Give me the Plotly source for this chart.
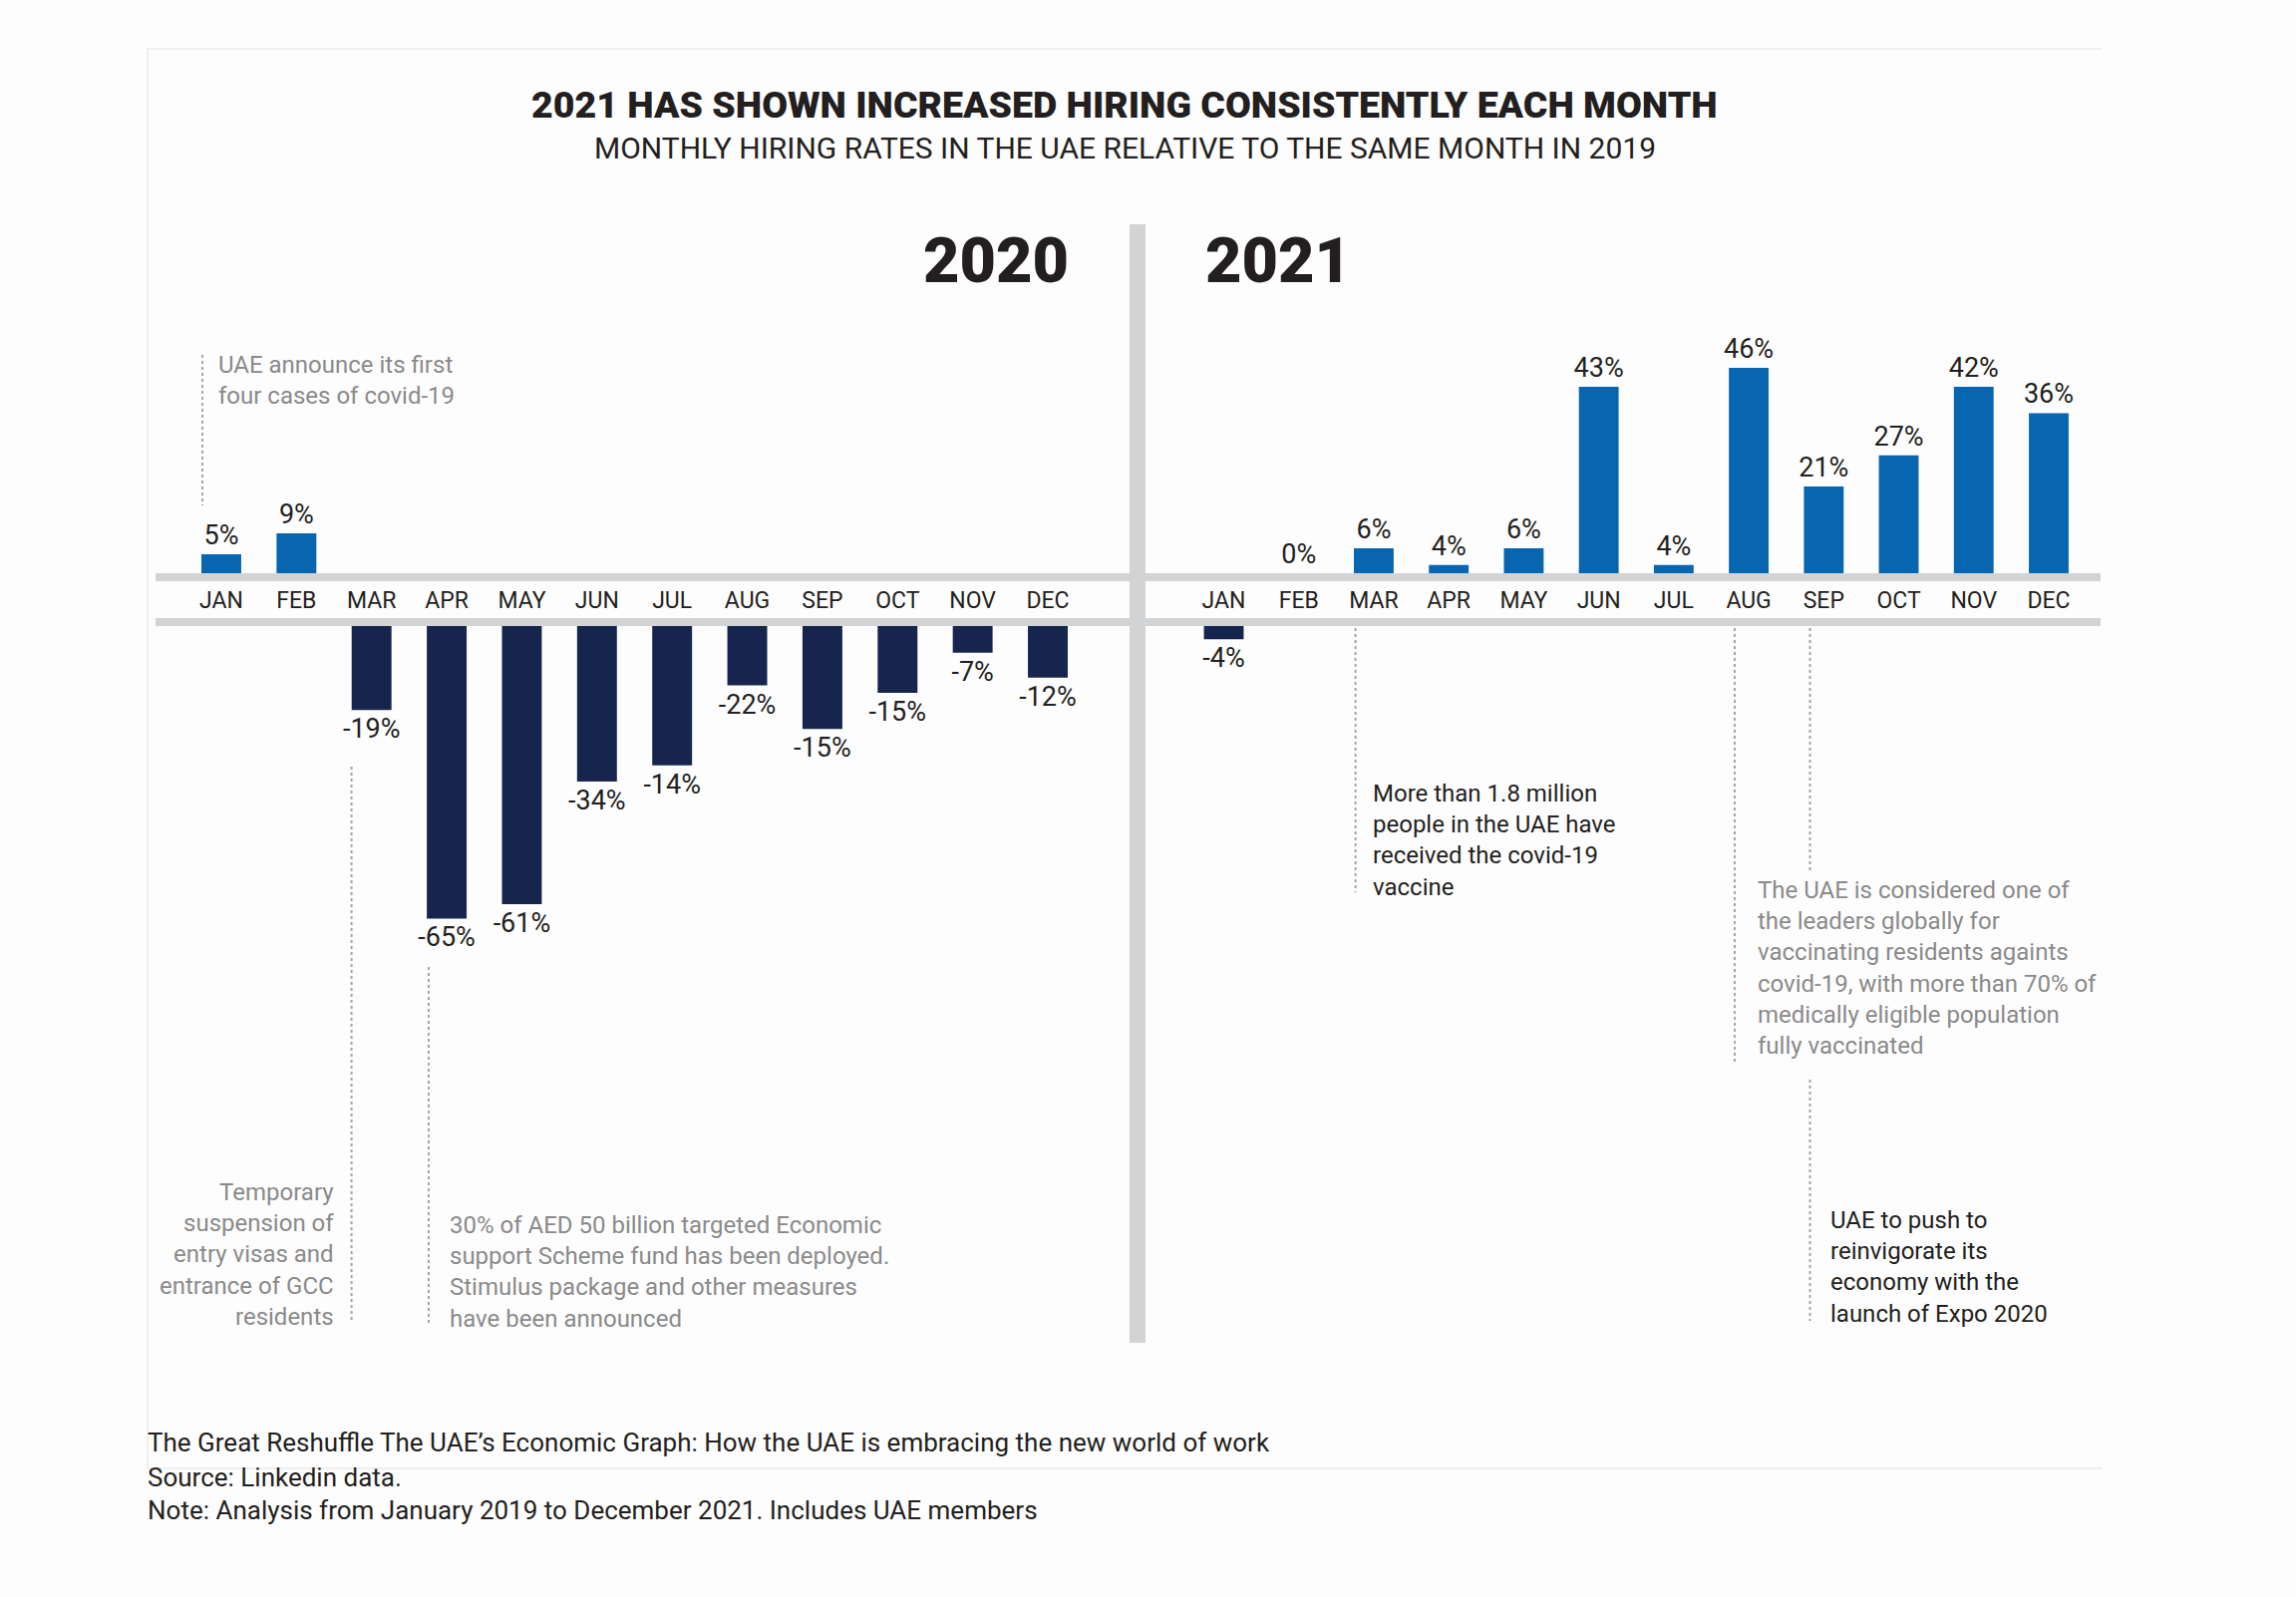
import plotly.graph_objects as go

# ---------------- data ----------------
months = ["JAN", "FEB", "MAR", "APR", "MAY", "JUN", "JUL", "AUG", "SEP", "OCT", "NOV", "DEC"]

# bar lengths as drawn in the picture
values_2020 = [4.2, 8.8, -18.5, -64.5, -61.3, -34.3, -30.7, -13.1, -22.7, -14.7, -5.9, -11.4]
values_2021 = [-2.9, 0, 5.5, 1.8, 5.5, 41.1, 1.8, 45.3, 19.1, 26.0, 41.1, 35.3]

# labels as printed in the picture
labels_2020 = ["5%", "9%", "-19%", "-65%", "-61%", "-34%", "-14%", "-22%", "-15%", "-15%", "-7%", "-12%"]
labels_2021 = ["-4%", "0%", "6%", "4%", "6%", "43%", "4%", "46%", "21%", "27%", "42%", "36%"]

title = "2021 HAS SHOWN INCREASED HIRING CONSISTENTLY EACH MONTH"
subtitle = "MONTHLY HIRING RATES IN THE UAE RELATIVE TO THE SAME MONTH IN 2019"
footer_lines = [
    "The Great Reshuffle The UAE’s Economic Graph: How the UAE is embracing the new world of work",
    "Source: Linkedin data.",
    "Note: Analysis from January 2019 to December 2021. Includes UAE members",
]

# ---------------- style ----------------
W, H = 2303, 1602
POS_COLOR = "#0866b1"
NEG_COLOR = "#15254d"
BAND = "#d2d3d5"
TXT = "#231f20"
GREY_TXT = "#8a8a8a"
DOT = "#a5a5a5"
FONT = "Roboto"
PX_PER_UNIT = 4.55


def fx(x):
    return x / W


def fy(y):
    return 1 - y / H


POS_BASE = 575   # pixel y of positive baseline
NEG_BASE = 628   # pixel y of negative baseline
POS_MAX = 50
NEG_MIN = -80

fig = go.Figure()


def add_bars(vals, labels, xa):
    pos = [(m, v, t) for m, v, t in zip(months, vals, labels) if v >= 0]
    neg = [(m, v, t) for m, v, t in zip(months, vals, labels) if v < 0]
    for group, ya, color in ((pos, "y", POS_COLOR), (neg, "y3", NEG_COLOR)):
        if not group:
            continue
        fig.add_trace(go.Bar(
            x=[g[0] for g in group], y=[g[1] for g in group], text=[g[2] for g in group],
            xaxis=xa, yaxis=ya, marker=dict(color=color, line=dict(width=0)),
            width=0.53, textposition="outside", constraintext="none",
            textfont=dict(family=FONT, size=27, color=TXT), cliponaxis=False,
            showlegend=False, hoverinfo="skip",
        ))


add_bars(values_2020, labels_2020, "x")
add_bars(values_2021, labels_2021, "x2")

xcommon = dict(type="category", categoryorder="array", categoryarray=months,
               range=[-0.5, 11.5], showgrid=False, zeroline=False, showline=False,
               ticks="outside", ticklen=6, tickcolor="rgba(0,0,0,0)",
               tickfont=dict(family=FONT, size=23, color=TXT), anchor="y", fixedrange=True)

fig.update_layout(
    width=W, height=H, margin=dict(l=0, r=0, t=0, b=0), autosize=False,
    paper_bgcolor="#fdfdfd", plot_bgcolor="rgba(0,0,0,0)",
    barmode="overlay", showlegend=False,
    xaxis=dict(domain=[fx(184.3), fx(1088.7)], **xcommon),
    xaxis2=dict(domain=[fx(1189.9), fx(2092.6)], **xcommon),
    yaxis=dict(domain=[fy(POS_BASE), fy(POS_BASE - POS_MAX * PX_PER_UNIT)], range=[0, POS_MAX],
               visible=False, fixedrange=True),
    yaxis3=dict(domain=[fy(NEG_BASE - NEG_MIN * PX_PER_UNIT), fy(NEG_BASE)], range=[NEG_MIN, 0],
                visible=False, fixedrange=True, anchor="x"),
)

shapes = []
# faint frame
for x0, y0, x1, y1 in [(147, 49, 2108, 49), (148, 49, 148, 1473), (148, 1473, 2108, 1473)]:
    shapes.append(dict(type="line", xref="paper", yref="paper", x0=fx(x0), y0=fy(y0), x1=fx(x1), y1=fy(y1),
                       line=dict(color="#efefef", width=2), layer="below"))
# gray bands around month labels
for y0, y1 in [(575, 583), (620, 628)]:
    shapes.append(dict(type="rect", xref="paper", yref="paper", x0=fx(156), x1=fx(2107), y0=fy(y1), y1=fy(y0),
                       fillcolor=BAND, line=dict(width=0), layer="below"))
# vertical divider
shapes.append(dict(type="rect", xref="paper", yref="paper", x0=fx(1133), x1=fx(1149), y0=fy(1347), y1=fy(225),
                   fillcolor=BAND, line=dict(width=0), layer="below"))
# dotted leader lines
for x, y0, y1 in [(203, 356, 507), (352.6, 769, 1327), (430, 970, 1327), (1359.6, 630, 895),
                  (1740, 630, 1066), (1815.5, 630, 873), (1815.5, 1083, 1325)]:
    shapes.append(dict(type="line", xref="paper", yref="paper", x0=fx(x), x1=fx(x), y0=fy(y0), y1=fy(y1),
                       line=dict(color=DOT, width=2, dash="dot")))
fig.update_layout(shapes=shapes)

ann = []


def note(text, x, y, xanchor="left", color=TXT, size=24, align="left", weight="normal"):
    ann.append(dict(text=text, x=fx(x), y=fy(y), xref="paper", yref="paper", xanchor=xanchor,
                    yanchor="middle", align=align, showarrow=False,
                    font=dict(family=FONT, size=size, color=color, weight=weight)))


note(title, 1128, 105, xanchor="center", size=37.5, weight=900, color=TXT)
note(subtitle, 1128, 148, xanchor="center", size=30, color=TXT)
note("2020", 1074, 261, xanchor="right", size=63, weight=900, color=TXT)
note("2021", 1207, 261, xanchor="left", size=63, weight=900, color=TXT)

note("UAE announce its first<br>four cases of covid-19", 217, 381.5, color=GREY_TXT)
note("Temporary<br>suspension of<br>entry visas and<br>entrance of GCC<br>residents", 337, 1258,
     xanchor="right", align="right", color=GREY_TXT)
note("30% of AED 50 billion targeted Economic<br>support Scheme fund has been deployed.<br>"
     "Stimulus package and other measures<br>have been announced", 449, 1275.5, color=GREY_TXT)
note("More than 1.8 million<br>people in the UAE have<br>received the covid-19<br>vaccine", 1374.5, 843)
note("The UAE is considered one of<br>the leaders globally for<br>vaccinating residents againts<br>"
     "covid-19, with more than 70% of<br>medically eligible population<br>fully vaccinated",
     1760.5, 970.5, color=GREY_TXT)
note("UAE to push to<br>reinvigorate its<br>economy with the<br>launch of Expo 2020", 1834, 1271)

for line, y in zip(footer_lines, [1446.7, 1481.7, 1515]):
    note(line, 146, y, size=26)

fig.update_layout(annotations=ann)

fig.write_html("out.html", config={"displayModeBar": False, "responsive": False},
               post_script="document.body.style.margin='0';document.body.style.overflow='hidden';")
